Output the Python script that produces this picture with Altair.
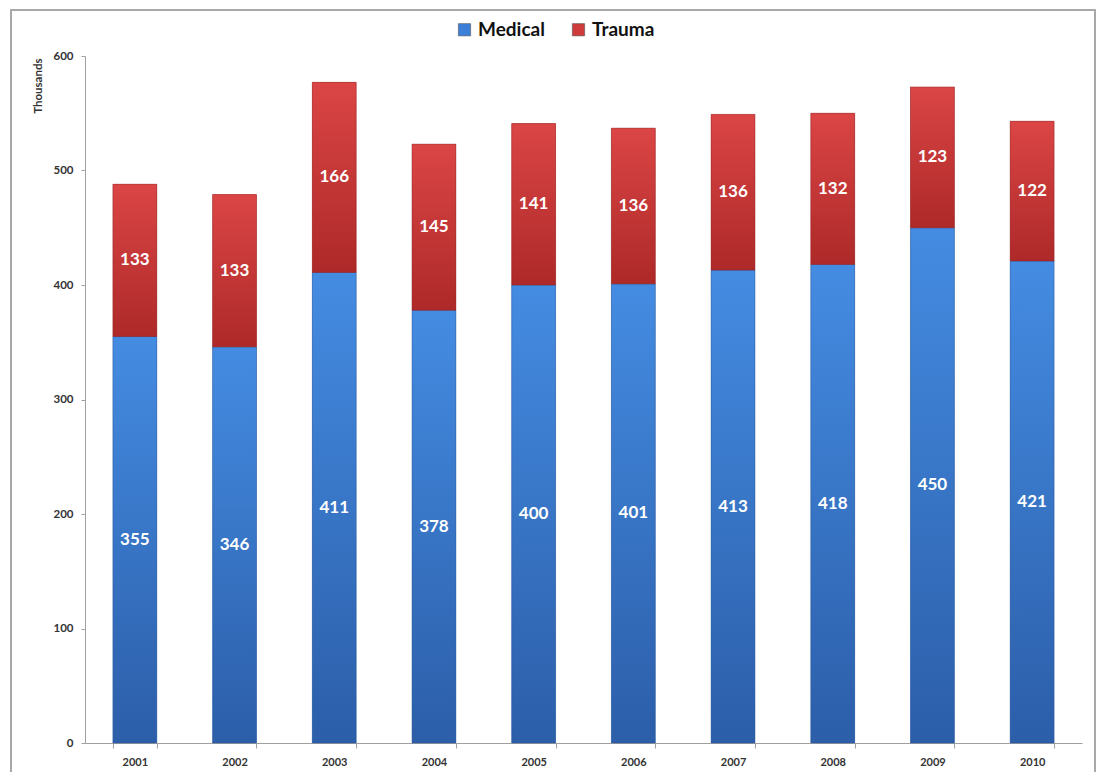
import altair as alt
import pandas as pd

years = ["2001", "2002", "2003", "2004", "2005", "2006", "2007", "2008", "2009", "2010"]
medical = [355, 346, 411, 378, 400, 401, 413, 418, 450, 421]
trauma = [133, 133, 166, 145, 141, 136, 136, 132, 123, 122]
series = ["Medical", "Trauma"]
colors = ["#3b7fd9", "#cf3a3a"]
y_ticks = [0, 100, 200, 300, 400, 500, 600]

rows = []
for yr, m, t in zip(years, medical, trauma):
    rows.append({"year": yr, "series": "Medical", "value": m, "order": 0})
    rows.append({"year": yr, "series": "Trauma", "value": t, "order": 1})
df = pd.DataFrame(rows)

FONT = "Lato"

base = alt.Chart(df).transform_stack(
    stack="value", as_=["y0", "y1"], groupby=["year"], sort=[alt.SortField("order")]
).transform_calculate(mid="(datum.y0 + datum.y1) / 2")

xenc = alt.X(
    "year:N",
    sort=years,
    title=None,
    scale=alt.Scale(paddingInner=0.56, paddingOuter=0.28),
    axis=alt.Axis(
        tickBand="extent", labelAngle=0, labelFont=FONT, labelFontWeight="bold",
        labelFontSize=11, labelColor="#333333", labelPadding=8, tickSize=5,
        domainColor="#a0a0a0", tickColor="#a0a0a0", grid=False,
    ),
)
yscale = alt.Scale(domain=[0, 600], nice=False)
yenc = alt.Y(
    "y0:Q",
    scale=yscale,
    title="Thousands",
    axis=alt.Axis(
        values=y_ticks, labelFont=FONT, labelFontWeight="bold", labelFontSize=11.5,
        labelColor="#333333", labelPadding=8, tickSize=4, domainColor="#a0a0a0",
        tickColor="#a0a0a0", grid=False, titleFont=FONT, titleFontWeight="bold",
        titleFontSize=11.5, titleColor="#333333", titleAngle=270, titleX=-47, titleY=2,
        titleAlign="right", titleBaseline="middle",
    ),
)

bars = base.mark_bar().encode(
    x=xenc,
    y=yenc,
    y2="y1:Q",
    color=alt.Color(
        "series:N",
        scale=alt.Scale(domain=series, range=colors),
        legend=alt.Legend(
            title=None, orient="none", legendX=370, legendY=-36, direction="horizontal",
            symbolType="square", symbolSize=150, symbolStrokeColor="#555555",
            symbolStrokeWidth=0.6, labelFont=FONT, labelFontWeight="bold",
            labelFontSize=19, labelColor="#111111", columnPadding=24, symbolOpacity=1,
        ),
    ),
)

def grad(top, bottom):
    return alt.Gradient(
        gradient="linear",
        stops=[alt.GradientStop(color=top, offset=0), alt.GradientStop(color=bottom, offset=1)],
        x1=0, x2=0, y1=0, y2=1,
    )

med_layer = base.transform_filter(alt.datum.series == "Medical").mark_bar(
    color=grad("#448ce2", "#2c5ea9"), stroke="#2a5596", strokeWidth=0.8, strokeOpacity=0.6
).encode(x=xenc, y=alt.Y("y0:Q", scale=yscale), y2="y1:Q")

tra_layer = base.transform_filter(alt.datum.series == "Trauma").mark_bar(
    color=grad("#db4545", "#ae2929"), stroke="#8f2222", strokeWidth=0.8, strokeOpacity=0.6
).encode(x=xenc, y=alt.Y("y0:Q", scale=yscale), y2="y1:Q")

labels = base.mark_text(
    font=FONT, fontWeight="bold", fontSize=17, color="white", baseline="middle"
).encode(
    x=alt.X("year:N", sort=years),
    y=alt.Y("mid:Q", scale=yscale),
    text=alt.Text("value:Q"),
)

border = alt.Chart(alt.Data(values=[{"a": 1}])).mark_rect(
    fillOpacity=0, stroke="#a8a8a8", strokeWidth=2
).encode(
    x=alt.value(-74), x2=alt.value(1010), y=alt.value(-46), y2=alt.value(800)
)

chart = alt.layer(bars, med_layer, tra_layer, labels, border).properties(
    width=997,
    height=687,
    autosize=alt.AutoSizeParams(type="none"),
    padding={"left": 85, "top": 56, "right": 19, "bottom": 29},
    background="white",
).configure_view(strokeWidth=0)

chart.save("out.html", embed_options={"renderer": "svg", "actions": False})
